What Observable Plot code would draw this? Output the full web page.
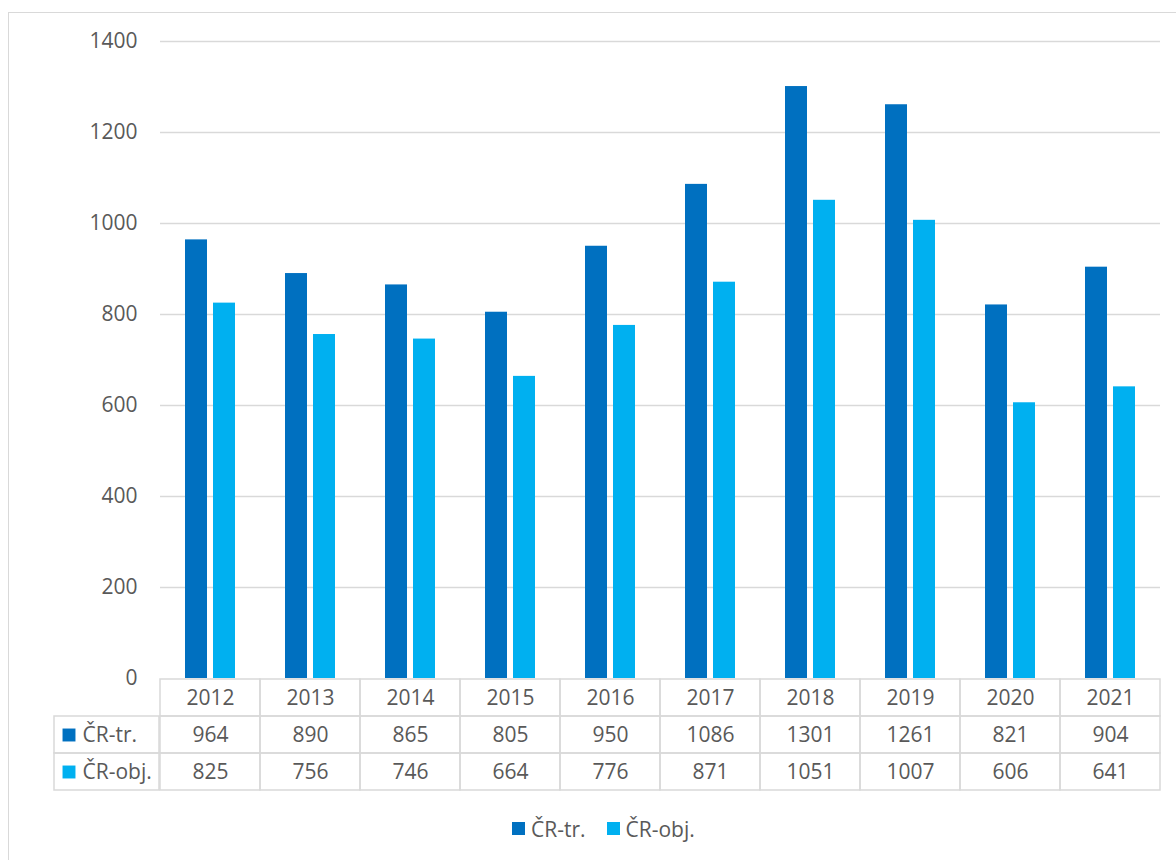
<!DOCTYPE html>
<html>
<head>
<meta charset="utf-8">
<script src="https://cdn.jsdelivr.net/npm/d3@7"></script>
<script src="https://cdn.jsdelivr.net/npm/@observablehq/plot@0.6"></script>
<style>
  html, body { margin: 0; padding: 0; background: #fff; }
  #root { position: relative; width: 1176px; height: 860px; overflow: hidden; background: #fff;
          font-family: "Open Sans", sans-serif; color: #595959; }
  #frame { position: absolute; left: 8px; top: 12px; width: 1300px; height: 1000px;
           border: 1.5px solid #d9d9d9; box-sizing: border-box; }
  .pos { position: absolute; }
  .lg-swatch { margin-right: 21px !important; font-size: 21px; color: #595959; }
  .lg-swatch > svg { margin-right: 6px !important; }
</style>
</head>
<body>
<div id="root">
  <div id="frame"></div>
  <div id="bars" class="pos" style="left:0;top:0"></div>
  <div id="table" class="pos" style="left:0;top:677px"></div>
  <div id="labels" class="pos" style="left:0;top:677px"></div>
  <div id="legend" class="pos" style="left:512px;top:812px"></div>
</div>
<script>
// ---- data ----
const years = [2012, 2013, 2014, 2015, 2016, 2017, 2018, 2019, 2020, 2021];
const seriesNames = ["ČR-tr.", "ČR-obj."];
const trValues = [964, 890, 865, 805, 950, 1086, 1301, 1261, 821, 904];
const objValues = [825, 756, 746, 664, 776, 871, 1051, 1007, 606, 641];
const seriesColors = ["#0070C0", "#00B0F0"];
const yTicks = [0, 200, 400, 600, 800, 1000, 1200, 1400];

const FONT = "'Open Sans', sans-serif";
const FS = "21px";
const GRID = "#d9d9d9";
const TEXT = "#595959";

const barData = years.flatMap((year, i) => [
  {year, series: seriesNames[0], value: trValues[i]},
  {year, series: seriesNames[1], value: objValues[i]}
]);

// ---- bar chart ----
const bars = Plot.plot({
  width: 1176, height: 690,
  marginTop: 41, marginBottom: 12, marginLeft: 159, marginRight: 16,
  style: {fontFamily: FONT, fontSize: FS, color: TEXT, background: "transparent", overflow: "visible"},
  facet: {data: barData, x: "year"},
  fx: {padding: 0, axis: null, label: null},
  x: {domain: seriesNames, paddingInner: 0.21, paddingOuter: 0.86, axis: null, label: null},
  y: {domain: [0, 1400], ticks: yTicks, tickSize: 0, tickPadding: 23, tickFormat: d => String(d), label: null},
  color: {domain: seriesNames, range: seriesColors},
  marks: [
    Plot.ruleY(yTicks.filter(t => t > 0), {stroke: GRID, strokeWidth: 1.5}),
    Plot.barY(barData, {x: "series", y: "value", fill: "series"})
  ]
});
document.getElementById("bars").appendChild(bars);

// ---- data table ----
const rowKeys = ["header", ...seriesNames];
const tableCells = years.flatMap((year, i) => [
  {year, row: "header", text: String(year)},
  {year, row: seriesNames[0], text: String(trValues[i])},
  {year, row: seriesNames[1], text: String(objValues[i])}
]);
const table = Plot.plot({
  width: 1176, height: 116,
  marginTop: 1, marginBottom: 2, marginLeft: 159, marginRight: 16,
  style: {fontFamily: FONT, fontSize: FS, color: TEXT, background: "transparent", overflow: "visible"},
  x: {domain: years, padding: 0, axis: null},
  y: {domain: rowKeys, padding: 0, axis: null},
  marks: [
    Plot.cell(tableCells, {x: "year", y: "row", fill: "none", stroke: GRID, strokeWidth: 1.5, inset: 0}),
    Plot.text(tableCells, {x: "year", y: "row", text: "text", fill: TEXT})
  ]
});
document.getElementById("table").appendChild(table);

// ---- row labels with swatches ----
const labelData = seriesNames.map(s => ({col: "label", row: s}));
const labels = Plot.plot({
  width: 159, height: 116,
  marginTop: 1, marginBottom: 2, marginLeft: 54, marginRight: 0,
  style: {fontFamily: FONT, fontSize: FS, color: TEXT, background: "transparent", overflow: "visible"},
  x: {domain: ["label"], padding: 0, axis: null},
  y: {domain: rowKeys, padding: 0, axis: null},
  color: {domain: seriesNames, range: seriesColors},
  marks: [
    Plot.cell(labelData, {x: "col", y: "row", fill: "none", stroke: GRID, strokeWidth: 1.5, inset: 0}),
    Plot.dot(labelData, {y: "row", frameAnchor: "left", dx: 14.5, symbol: "square", r: 7.3, fill: "row"}),
    Plot.text(labelData, {y: "row", frameAnchor: "left", dx: 28, textAnchor: "start", text: "row", fill: TEXT})
  ]
});
document.getElementById("labels").appendChild(labels);

// ---- legend ----
const legend = Plot.legend({
  legend: "swatches",
  color: {type: "ordinal", domain: seriesNames, range: seriesColors},
  swatchSize: 13,
  className: "lg",
  style: {fontFamily: FONT, fontSize: FS, color: TEXT, background: "transparent"}
});
document.getElementById("legend").appendChild(legend);
</script>
</body>
</html>
